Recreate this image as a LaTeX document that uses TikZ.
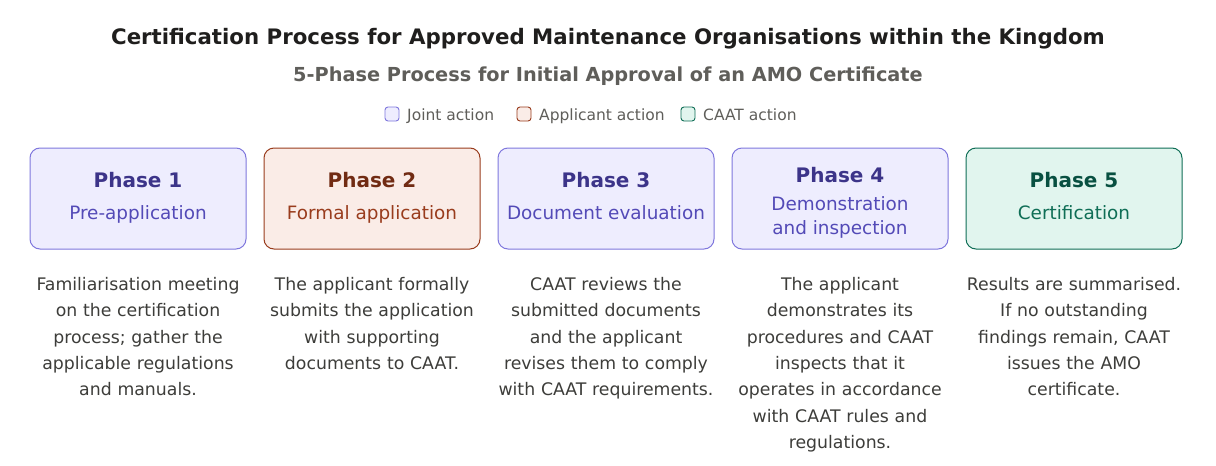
\documentclass[tikz,border=0pt]{standalone}
\usepackage{fontspec}
\setmainfont{DejaVu Sans}
\usetikzlibrary{positioning}
\definecolor{jointfill}{HTML}{EEEDFE}
\definecolor{jointline}{HTML}{7F77DD}
\definecolor{jointtitle}{HTML}{3C3489}
\definecolor{jointsub}{HTML}{534AB7}
\definecolor{applfill}{HTML}{FAECE7}
\definecolor{applline}{HTML}{993C1D}
\definecolor{appltitle}{HTML}{712B13}
\definecolor{applsub}{HTML}{993C1D}
\definecolor{caatfill}{HTML}{E1F5EE}
\definecolor{caatline}{HTML}{0F6E56}
\definecolor{caattitle}{HTML}{085041}
\definecolor{caatsub}{HTML}{0F6E56}
\definecolor{headcolor}{HTML}{1F1E1D}
\definecolor{greytext}{HTML}{5F5E5A}
\definecolor{desctext}{HTML}{3D3D3A}
\tikzset{
    % Boxes
    phase box/.style={draw=#1line,fill=#1fill,line width=1pt,rounded corners=10pt,
        minimum width=216pt,minimum height=101pt,inner sep=0pt},
    phase title/.style={text=#1title,anchor=base,inner sep=0pt,
        font=\fontsize{20}{24}\selectfont\bfseries},
    phase sub/.style={text=#1sub,anchor=base,inner sep=0pt,align=center,
        font=\fontsize{18.4}{23.5}\selectfont},
    %
    % Texts
    main title/.style={text=headcolor,anchor=base,inner sep=0pt,
        font=\fontsize{21.3}{24}\selectfont\bfseries},
    sub title/.style={text=greytext,anchor=base,inner sep=0pt,
        font=\fontsize{19.3}{22}\selectfont\bfseries},
    desc/.style={text=desctext,inner sep=0pt,align=center,text width=234pt,
        font=\fontsize{17.3}{26.4}\selectfont},
    %
    % Legend
    key/.style={draw=#1line,fill=#1fill,line width=0.9pt,rounded corners=3pt,
        minimum size=14pt,inner sep=0pt},
    key text/.style={text=greytext,anchor=base west,inner sep=0pt,
        font=\fontsize{15.5}{18}\selectfont}
}

\begin{document}
\begin{tikzpicture}[x=1pt,y=-1pt]
    \useasboundingbox[fill=white] (0,0) rectangle (1216,466);
    \node[main title] (title) at (608,44.3) {Certification Process for Approved Maintenance Organisations within the Kingdom};
    \node[sub title] (subtitle) at (608,81) {5-Phase Process for Initial Approval of an AMO Certificate};
    % legend
    \foreach \k/\x/\t in {joint/392/Joint action,appl/524/Applicant action,caat/688/CAAT action}{
        \node[key=\k] (key-\k) at (\x,114) {};
        \node[key text] (keytext-\k) at (\x+15,120) {\t};
    }
    % phases
    \foreach \n/\x/\k/\sub/\ty/\sy in {
        1/138/joint/Pre-application/187.7/219.5,
        2/372/appl/Formal application/187.7/219.5,
        3/606/joint/Document evaluation/187.7/219.5,
        4/840/joint/{Demonstration\\and inspection}/182.7/234.3,
        5/1074/caat/Certification/187.7/219.5}{
        \node[phase box=\k] (p\n) at (\x,198.5) {};
        \node[phase title=\k] (p\n-title) at (\x,\ty) {Phase \n};
        \node[phase sub=\k] (p\n-sub) at (\x,\sy) {\sub};
    }
    \foreach \n/\d in {
        1/{Familiarisation meeting\\on the certification\\process; gather the\\applicable regulations\\and manuals.},
        2/{The applicant formally\\submits the application\\with supporting\\documents to CAAT.},
        3/{CAAT reviews the\\submitted documents\\and the applicant\\revises them to comply\\with CAAT requirements.},
        4/{The applicant\\demonstrates its\\procedures and CAAT\\inspects that it\\operates in accordance\\with CAAT rules and\\regulations.},
        5/{Results are summarised.\\If no outstanding\\findings remain, CAAT\\issues the AMO\\certificate.}}{
        \node[desc,below=27.5pt of p\n] (d\n) {\d};
    }
\end{tikzpicture}
\end{document}
